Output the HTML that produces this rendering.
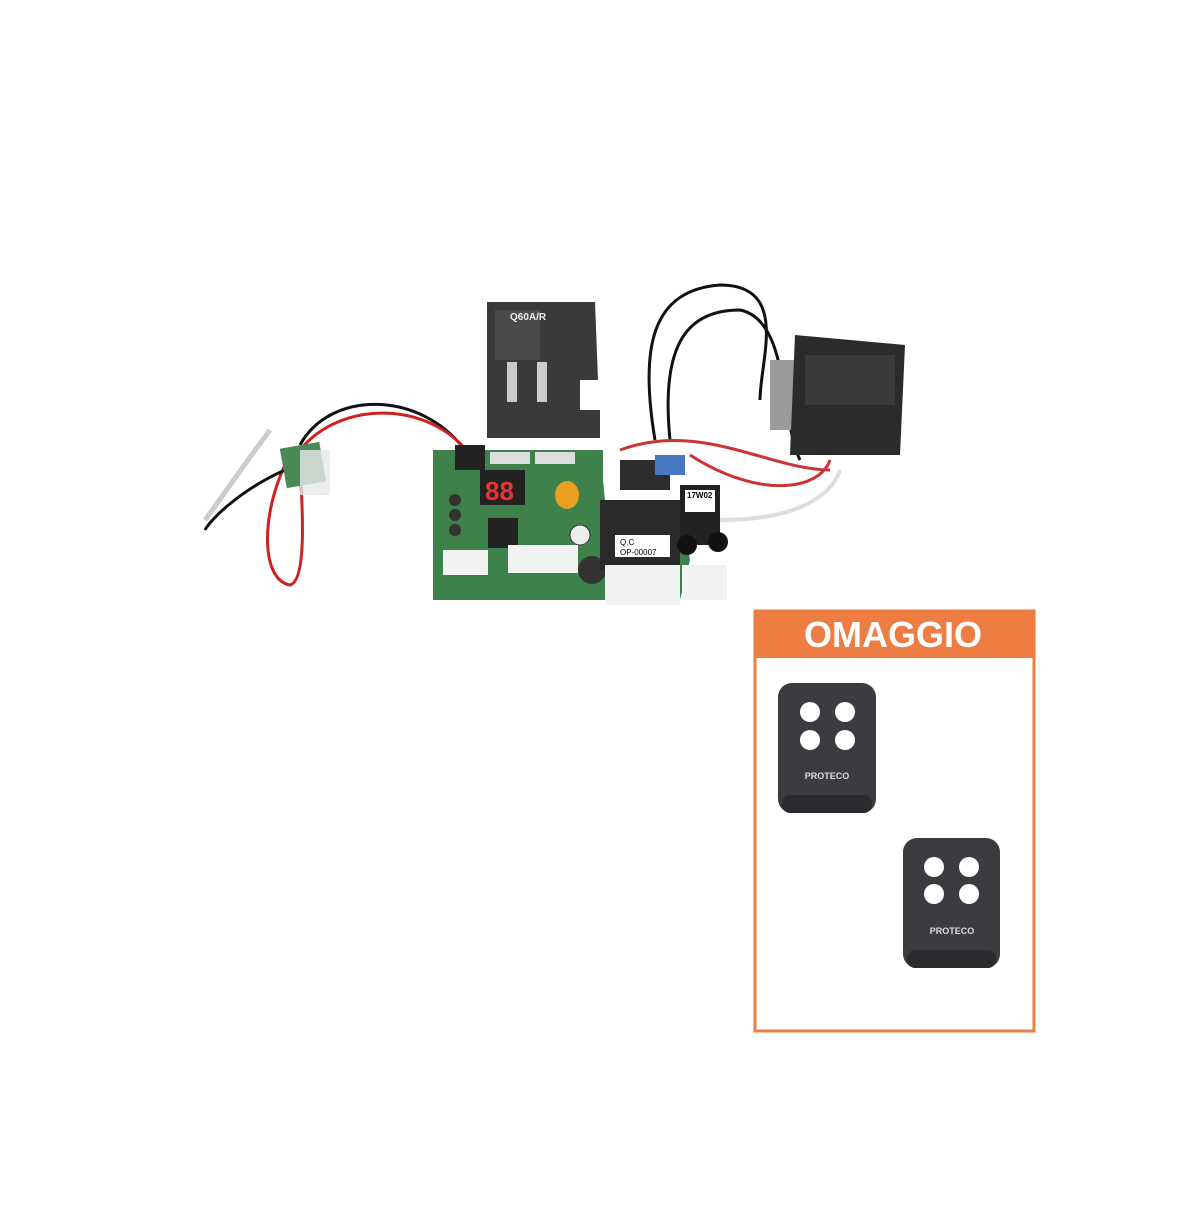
<!DOCTYPE html>
<html><head><meta charset="utf-8"><style>
body{margin:0;background:#fff;width:1200px;height:1200px;overflow:hidden;font-family:"Liberation Sans",sans-serif}
</style></head><body>
<svg width="1200" height="1200" viewBox="0 0 1200 1200" xmlns="http://www.w3.org/2000/svg">
<rect width="1200" height="1200" fill="#fff"/>
<!-- wires -->
<g fill="none" stroke-width="3">
<path d="M300 445 C330 390 420 390 465 450" stroke="#111"/>
<path d="M300 450 C340 400 430 400 470 455" stroke="#c22"/>
<path d="M290 455 C260 510 260 580 290 585 C310 580 300 480 300 460" stroke="#c22"/>
<path d="M285 470 C240 490 210 520 205 530" stroke="#111"/>
<path d="M270 430 C240 470 220 500 205 520" stroke="#ccc" stroke-width="5"/>
<path d="M655 440 C640 350 650 290 720 285 C790 285 760 360 760 400" stroke="#111"/>
<path d="M670 440 C660 340 690 310 740 310 C790 320 780 420 800 460" stroke="#111"/>
<path d="M620 450 C700 420 770 470 830 470" stroke="#c33"/>
<path d="M690 455 C760 500 820 490 830 460" stroke="#c33"/>
<path d="M720 520 C790 520 830 500 840 470" stroke="#ddd" stroke-width="4"/>
</g>
<!-- small green board left -->
<rect x="283" y="445" width="40" height="40" fill="#4a8a55" transform="rotate(-10 303 465)"/>
<rect x="300" y="450" width="30" height="45" fill="#e8e8e8" opacity="0.8"/>
<!-- PCB -->
<path d="M435 450 L600 450 L605 500 L680 500 L690 560 L680 600 L435 600 Z" fill="#3e7f4a"/>
<rect x="433" y="450" width="170" height="150" fill="#3f814b"/>
<rect x="455" y="445" width="30" height="25" fill="#222"/>
<rect x="480" y="470" width="45" height="35" fill="#222"/>
<text x="485" y="500" fill="#e33" font-size="26" font-weight="bold">88</text>
<rect x="490" y="452" width="40" height="12" fill="#ddd"/>
<rect x="535" y="452" width="40" height="12" fill="#ddd"/>
<ellipse cx="567" cy="495" rx="12" ry="14" fill="#e8a020"/>
<rect x="488" y="518" width="30" height="30" fill="#222"/>
<circle cx="455" cy="500" r="6" fill="#333"/><circle cx="455" cy="515" r="6" fill="#333"/><circle cx="455" cy="530" r="6" fill="#333"/>
<rect x="443" y="550" width="45" height="25" fill="#f2f2f2"/>
<rect x="508" y="545" width="70" height="28" fill="#f2f2f2"/>
<circle cx="580" cy="535" r="10" fill="#eee" stroke="#333"/>
<circle cx="592" cy="570" r="14" fill="#333"/>
<!-- relay area -->
<rect x="600" y="500" width="80" height="70" fill="#2a2a2a"/>
<rect x="615" y="535" width="55" height="22" fill="#fff"/>
<text x="620" y="545" font-size="8">Q.C</text><text x="620" y="555" font-size="8">OP-00007</text>
<rect x="680" y="485" width="40" height="60" fill="#222"/>
<rect x="685" y="490" width="30" height="22" fill="#fff"/>
<text x="687" y="498" font-size="8" font-weight="bold">17W02</text>
<circle cx="687" cy="545" r="10" fill="#111"/><circle cx="718" cy="542" r="10" fill="#111"/>
<rect x="605" y="565" width="75" height="40" fill="#f2f2f2"/>
<rect x="682" y="565" width="45" height="35" fill="#f2f2f2"/>
<rect x="620" y="460" width="50" height="30" fill="#2d2d2d"/>
<rect x="655" y="455" width="30" height="20" fill="#4a78c0"/>
<!-- fuse cover -->
<path d="M487 302 L595 302 L598 380 L580 380 L580 410 L600 410 L600 438 L487 438 Z" fill="#3a3a3c"/>
<rect x="495" y="310" width="45" height="50" fill="#4a4a4c"/>
<text x="510" y="320" fill="#eee" font-size="10" font-weight="bold">Q60A/R</text>
<rect x="507" y="362" width="10" height="40" fill="#ccc"/><rect x="537" y="362" width="10" height="40" fill="#ccc"/>
<!-- transformer -->
<rect x="770" y="360" width="40" height="70" fill="#9a9a9a"/>
<path d="M795 335 L905 345 L900 455 L790 455 Z" fill="#2b2b2b"/>
<rect x="805" y="355" width="90" height="50" fill="#3a3a3a"/>
<!-- OMAGGIO box -->
<rect x="755" y="611" width="279" height="420" fill="none" stroke="#ee7d43" stroke-width="3"/>
<rect x="755" y="611" width="279" height="47" fill="#ee7d43"/>
<text x="893" y="647" fill="#fff" font-size="36" font-weight="bold" text-anchor="middle">OMAGGIO</text>
<!-- remote 1 -->
<rect x="778" y="683" width="98" height="130" rx="14" fill="#3a3c40"/>
<rect x="782" y="795" width="90" height="18" rx="8" fill="#2a2b2e"/>
<circle cx="810" cy="712" r="10" fill="#fff"/><circle cx="845" cy="712" r="10" fill="#fff"/>
<circle cx="810" cy="740" r="10" fill="#fff"/><circle cx="845" cy="740" r="10" fill="#fff"/>
<text x="827" y="779" fill="#ddd" font-size="9" font-weight="bold" text-anchor="middle">PROTECO</text>
<!-- remote 2 -->
<rect x="903" y="838" width="97" height="130" rx="14" fill="#3a3c40"/>
<rect x="907" y="950" width="89" height="18" rx="8" fill="#2a2b2e"/>
<circle cx="934" cy="867" r="10" fill="#fff"/><circle cx="969" cy="867" r="10" fill="#fff"/>
<circle cx="934" cy="894" r="10" fill="#fff"/><circle cx="969" cy="894" r="10" fill="#fff"/>
<text x="952" y="934" fill="#ddd" font-size="9" font-weight="bold" text-anchor="middle">PROTECO</text>
</svg>
</body></html>
